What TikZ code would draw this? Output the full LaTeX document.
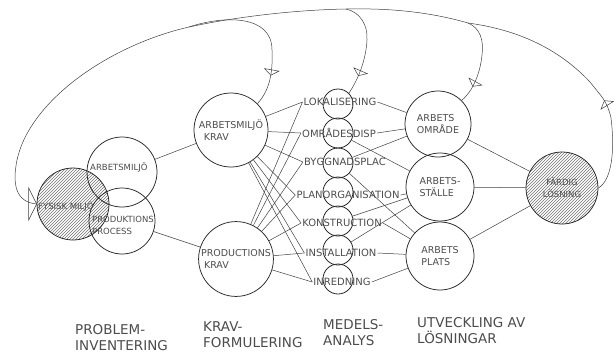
\documentclass[tikz,border=0pt]{standalone}
\usepackage{fontspec}
\setsansfont{DejaVu Sans}
\usetikzlibrary{arrows.meta,decorations.markings,patterns}
\begin{document}
\begin{tikzpicture}[x=1pt,y=-1pt,
  ln/.style={draw=black!75, line width=0.5pt},
  circ/.style={circle, draw=black!85, line width=0.75pt, minimum size=#1, inner sep=0pt},
  smallc/.style={circle, draw=black!85, line width=0.8pt, minimum size=30pt, inner sep=0pt},
  vlbl/.style={font=\sffamily\fontsize{8.5}{12}\selectfont, text=black!70, inner sep=1pt},
  lbl/.style={font=\sffamily\fontsize{9.5}{12.5}\selectfont, text=black!70, inner sep=1pt},
  slbl/.style={font=\sffamily\fontsize{10}{11}\selectfont, text=black!70, inner sep=1pt},
  bl/.style={font=\sffamily\fontsize{13.5}{16.5}\selectfont, text=black!70, align=left, inner sep=0pt, anchor=north west},
  hatch/.style={pattern=north east lines, pattern color=black!55},
  midtri/.style={postaction={decorate}, decoration={markings, mark=at position #1 with {\arrow[black!75, line width=0.5pt]{Triangle[open, length=6pt, width=16pt]}}}}
]
\useasboundingbox (0,0) rectangle (616,360);

% problem inventory (Venn)
\node[circ=72pt, hatch] (fm) at (73,204) {};
\node[circ=70pt] (am) at (122,172) {};
\node[circ=66pt] (pp) at (122,221) {};
\node[vlbl, anchor=west] (fmt) at (37,206) {FYSISK MILJÖ};
\node[vlbl, anchor=west] (amt) at (89,167) {ARBETSMILJÖ};
\node[vlbl, anchor=west, align=left] (ppt) at (91,225) {PRODUKTIONS\\PROCESS};

% requirement circles
\node[circ=74pt, lbl, align=left] (amk) at (231,130) {ARBETSMILJÖ\\\hspace{5pt}KRAV};
\node[circ=74pt, lbl, align=left] (pk) at (236,259) {PRODUCTIONS\\\hspace{3pt}KRAV};

% means analysis column
\foreach \i/\y in {1/104,2/133,3/163,4/192,5/221,6/250,7/279}
  \node[smallc] (c\i) at (338,\y) {};
\node[slbl] (l1) at (340,102) {LOKALISERING};
\node[slbl] (l2) at (339,133) {OMRÅDESDISP};
\node[slbl] (l3) at (345,162) {BYGGNADSPLAC};
\node[slbl] (l4) at (348,195) {PLANORGANISATION};
\node[slbl] (l5) at (342,223) {KONSTRUCTION};
\node[slbl] (l6) at (341,253) {INSTALLATION};
\node[slbl] (l7) at (342,282) {INREDNING};

% solution circles
\node[circ=66pt, lbl, align=left] (ao) at (438,124) {ARBETS\\OMRÅDE};
\node[circ=68pt, lbl, align=left] (as) at (440,187) {ARBETS-\\STÄLLE};
\node[circ=68pt, lbl, align=left] (ap) at (440,256) {ARBETS\\PLATS};
\node[circ=72pt, hatch, vlbl, align=center] (fl) at (562,188) {FÄRDIG\\LÖSNING};

% connectors
\draw[ln] (am) -- (amk);
\draw[ln] (pp) -- (pk);
\foreach \i in {1,...,7} {
  \draw[ln] (amk) -- (l\i.west);
  \draw[ln] (pk) -- (l\i.west);
}
\draw[ln] (l1.east) -- (ao);
\draw[ln] (l2.east) -- (ao);
\draw[ln] (c3) -- (ao);
\draw[ln] (c2) -- (as);
\draw[ln] (l4.east) -- (as);
\draw[ln] (c5) -- (as);
\draw[ln] (c6) -- (as);
\draw[ln] (c3) -- (ap);
\draw[ln] (l5.east) -- (ap);
\draw[ln] (l6.east) -- (ap);
\draw[ln] (l7.east) -- (ap);
\draw[ln] (ao) -- (fl);
\draw[ln] (as) -- (fl);
\draw[ln] (ap) -- (fl);

% feedback loops
\coordinate (bR) at (611,118);
\coordinate (j3) at (468,23);
\coordinate (j2) at (346,9);
\coordinate (j1) at (189,27);
\coordinate (bL) at (17,160);
\draw[ln, midtri=0.8] (fl.east) .. controls (612,180) and (615,150) .. (bR) .. controls (607,100) and (600,95) .. (590,82);
\draw[ln] (590,82) .. controls (560,50) and (520,30) .. (j3)
  .. controls (430,12) and (390,8) .. (j2)
  .. controls (290,10) and (230,18) .. (j1)
  .. controls (110,45) and (30,100) .. (bL)
  .. controls (12,185) and (16,202) .. (fm.west);
\draw[black!75, line width=0.5pt] (fm.west) ++(-8,-16) -- (fm.west) -- ++(-8,16) -- cycle;
\draw[ln, midtri=0.8] (j1) .. controls (225,15) and (272,15) .. (272,50) .. controls (273,72) and (270,90) .. (amk.north east);
\draw[ln, midtri=0.8] (j2) .. controls (360,12) and (368,25) .. (367,40) .. controls (366,60) and (358,80) .. (c1.north east);
\draw[ln, midtri=0.8] (j3) .. controls (480,28) and (484,40) .. (482,55) .. controls (480,75) and (472,92) .. (ao.north east);

% stage labels
\node[bl] (s1) at (75,324) {PROBLEM-\\INVENTERING};
\node[bl] (s2) at (203,321) {KRAV-\\FORMULERING};
\node[bl] (s3) at (323,319) {MEDELS-\\ANALYS};
\node[bl] (s4) at (417,317) {UTVECKLING AV\\LÖSNINGAR};
\end{tikzpicture}
\end{document}
